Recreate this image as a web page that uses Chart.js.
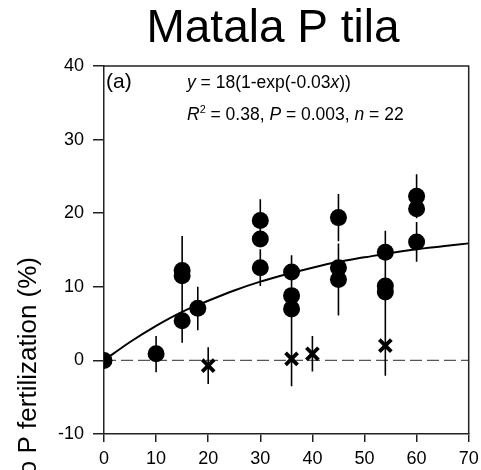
<!DOCTYPE html>
<html>
<head>
<meta charset="utf-8">
<script src="https://cdn.jsdelivr.net/npm/chart.js@4.4.1/dist/chart.umd.min.js"></script>
<style>
  html, body { margin: 0; padding: 0; background: #fff; }
  #wrap { width: 481px; height: 470px; }
</style>
</head>
<body>
<div id="wrap"><canvas id="chart"></canvas></div>
<script>
const TITLE = 'Matala P tila';
const Y_LABEL = 'Response to P fertilization (%)';
const X_RANGE = [0, 70];
const Y_RANGE = [-10, 40];
const TICK_STEP = 10;

// filled circles, with error bar ends (null = no bar of its own)
const circleX  = [0, 10, 15, 15, 15, 18, 30, 30, 30, 36, 36, 36, 45, 45, 45, 54, 54, 54, 60, 60, 60];
const circleY  = [0, 0.9, 12.2, 11.5, 5.4, 7.1, 19.0, 16.5, 12.6, 12.0, 8.8, 7.0, 19.4, 12.6, 11.0, 14.7, 10.1, 9.3, 22.3, 20.6, 16.1];
const circleLo = [null, -1.6, 7.5, null, 2.4, 4.1, 16.1, null, 10.1, 9.7, null, 3.5, 16.2, null, 6.1, 11.8, null, 5.0, 19.3, null, 13.4];
const circleHi = [null, 3.3, 16.9, null, 8.4, 10.0, 21.9, null, 15.1, 14.3, null, 10.5, 22.6, null, 15.9, 17.6, null, 13.6, 25.3, null, 18.8];

// crosses (non-significant responses)
const crossX  = [20, 36, 40, 54];
const crossY  = [-0.7, 0.2, 0.9, 2.0];
const crossLo = [-3.2, -3.5, -1.5, -2.1];
const crossHi = [1.8, 3.9, 3.3, 6.1];

// fitted curve
const curveX = [0, 5, 10, 15, 20, 25, 30, 35, 40, 45, 50, 55, 60, 65, 70];
const curveY = [0, 2.5, 4.7, 6.6, 8.1, 9.5, 10.7, 11.7, 12.6, 13.4, 14.0, 14.6, 15.1, 15.5, 15.9];

const FONT = "'Liberation Sans', Arial, sans-serif";

function toPoints(xs, ys) {
    return xs.map((x, i) => ({ x, y: ys[i] }));
}

// vertical segments separated by gaps
function errorSegments(xs, lo, hi) {
    const out = [];
    xs.forEach((x, i) => {
        if (lo[i] === null) return;
        out.push({ x, y: lo[i] }, { x, y: hi[i] }, { x, y: null });
    });
    return out;
}

function drawRuns(ctx, x, y, size, runs) {
    runs.forEach(r => {
        const s = r.sup ? size * 0.62 : size;
        ctx.font = (r.it ? 'italic ' : '') + s + 'px ' + FONT;
        ctx.fillText(r.t, x, r.sup ? y - size * 0.42 : y);
        x += ctx.measureText(r.t).width;
    });
}

const decorations = {
    id: 'decorations',
    afterDraw(chart) {
        const { ctx, chartArea: a } = chart;
        ctx.save();
        // frame top and right
        ctx.strokeStyle = '#222';
        ctx.lineWidth = 1.5;
        ctx.beginPath();
        ctx.moveTo(a.left, a.top);
        ctx.lineTo(a.right, a.top);
        ctx.lineTo(a.right, a.bottom);
        ctx.stroke();

        ctx.fillStyle = '#000';
        ctx.textBaseline = 'alphabetic';
        ctx.textAlign = 'center';
        ctx.font = '46px ' + FONT;
        ctx.fillText(TITLE, 273, 42);

        ctx.textAlign = 'left';
        ctx.font = '21px ' + FONT;
        ctx.fillText('(a)', a.left + 2, a.top + 22);

        drawRuns(ctx, a.left + 83, a.top + 22, 17.5, [
            { t: 'y', it: true }, { t: ' = 18(1-exp(-0.03' }, { t: 'x', it: true }, { t: '))' },
        ]);
        drawRuns(ctx, a.left + 83, a.top + 54, 17.5, [
            { t: 'R', it: true }, { t: '2', sup: true }, { t: ' = 0.38, ' },
            { t: 'P', it: true }, { t: ' = 0.003, ' }, { t: 'n', it: true }, { t: ' = 22' },
        ]);

        ctx.translate(36, 257);
        ctx.rotate(-Math.PI / 2);
        ctx.textAlign = 'right';
        ctx.font = '26px ' + FONT;
        ctx.fillText(Y_LABEL, 0, 0);
        ctx.restore();
    },
};

function axis(min, max, tickLen, pad, fit) {
    return {
        type: 'linear',
        min, max,
        ticks: { stepSize: TICK_STEP, color: '#000', padding: pad, font: { family: FONT, size: 18 } },
        grid: { drawOnChartArea: false, drawTicks: true, tickLength: tickLen, color: '#222', lineWidth: 1.5 },
        border: { display: true, color: '#222', width: 1.5 },
        afterFit: fit,
    };
}

new Chart(document.getElementById('chart'), {
    type: 'scatter',
    data: {
        datasets: [
            {
                data: toPoints(circleX, circleY),
                pointStyle: 'circle',
                pointRadius: 8.5,
                backgroundColor: '#000',
                borderColor: '#000',
                borderWidth: 0,
                order: 0,
            },
            {
                data: toPoints(crossX, crossY),
                pointStyle: 'crossRot',
                pointRadius: 8.5,
                borderColor: '#000',
                borderWidth: 3.8,
                order: 1,
            },
            {
                type: 'line',
                data: errorSegments(circleX.concat(crossX), circleLo.concat(crossLo), circleHi.concat(crossHi)),
                borderColor: '#000',
                borderWidth: 1.6,
                pointRadius: 0,
                spanGaps: false,
                order: 2,
            },
            {
                type: 'line',
                data: toPoints(curveX, curveY),
                borderColor: '#000',
                borderWidth: 2,
                pointRadius: 0,
                cubicInterpolationMode: 'monotone',
                order: 3,
            },
            {
                type: 'line',
                data: toPoints(X_RANGE, [0, 0]),
                borderColor: '#555',
                borderWidth: 1.4,
                borderDash: [12, 5],
                pointRadius: 0,
                order: 4,
            },
        ],
    },
    options: {
        responsive: true,
        maintainAspectRatio: false,
        animation: false,
        layout: { padding: { top: 66, right: 9, left: 0, bottom: 0 } },
        scales: {
            x: axis(X_RANGE[0], X_RANGE[1], 8, 6, s => { s.height = 36; s.paddingLeft = 0; s.paddingRight = 0; }),
            y: axis(Y_RANGE[0], Y_RANGE[1], 11, 9, s => { s.width = 104; s.paddingTop = 0; s.paddingBottom = 0; }),
        },
        plugins: {
            legend: { display: false },
            tooltip: { enabled: false },
        },
    },
    plugins: [decorations],
});
</script>
</body>
</html>
